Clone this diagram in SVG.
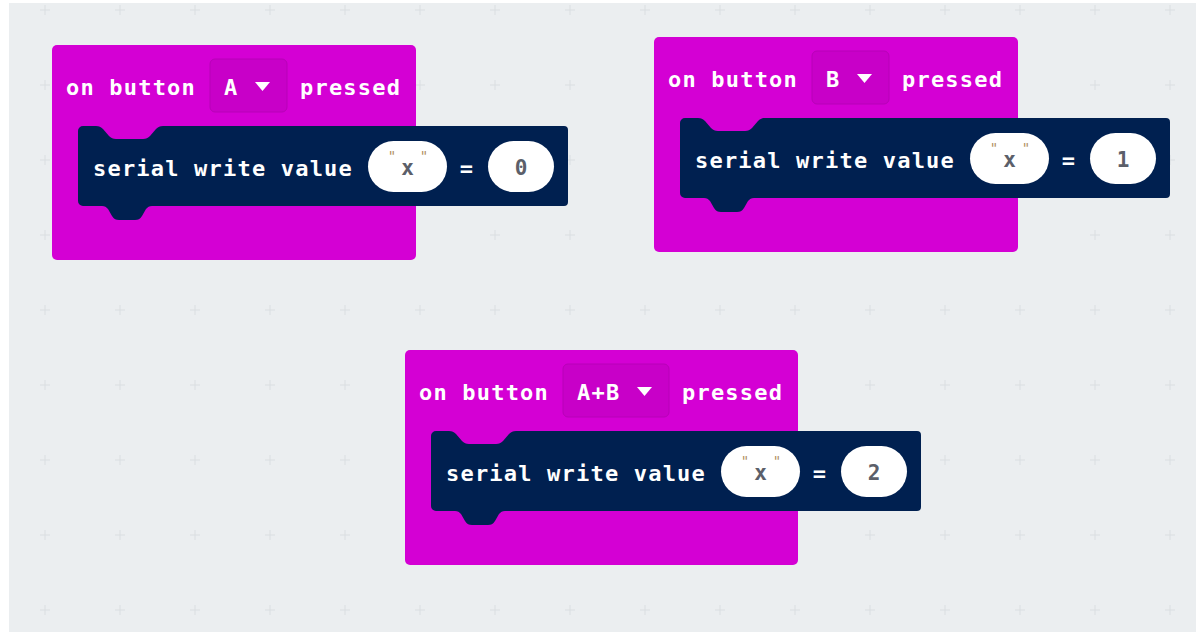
<svg xmlns="http://www.w3.org/2000/svg" width="1196" height="633" viewBox="0 0 1196 633">
<defs>
<style>
.bg{fill:#ebeef0}
.grid{stroke:#dadee1;stroke-width:1}
.evt{fill:#d400d4}
.dd{fill:#c800c8;stroke:#b800b8;stroke-width:1}
.stmt{fill:#002050}
.oval{fill:#ffffff}
.t{font-family:"DejaVu Sans Mono","Liberation Mono",monospace;font-weight:bold;font-size:22px;letter-spacing:1.2px;fill:#ffffff}
.v{font-family:"DejaVu Sans Mono","Liberation Mono",monospace;font-weight:bold;font-size:21px;fill:#5c5f6a;text-anchor:middle}
.q{font-family:"DejaVu Sans","Liberation Sans",sans-serif;font-size:14px;fill:#b09060;text-anchor:middle}
.arrow{fill:#ffffff}
</style>
</defs>
<rect x="0" y="0" width="1196" height="633" fill="#ffffff"/>
<rect class="bg" x="9" y="3" width="1187" height="629"/>
<g id="grid" class="grid" fill="none">
<path d="M40,10h10M45,5v10 M115,10h10M120,5v10 M190,10h10M195,5v10 M265,10h10M270,5v10 M340,10h10M345,5v10 M415,10h10M420,5v10 M490,10h10M495,5v10 M565,10h10M570,5v10 M640,10h10M645,5v10 M715,10h10M720,5v10 M790,10h10M795,5v10 M865,10h10M870,5v10 M940,10h10M945,5v10 M1015,10h10M1020,5v10 M1090,10h10M1095,5v10 M1165,10h10M1170,5v10"/>
<path d="M1090,85h10M1095,80v10 M1165,85h10M1170,80v10 M565,85h10M570,80v10 M40,85h10M45,80v10 M415,85h10M420,80v10 M490,85h10M495,80v10"/>
<path d="M490,160h10M495,155v10 M565,160h10M570,155v10 M1090,160h10M1095,155v10 M1165,160h10M1170,155v10 M40,160h10M45,155v10 M490,235h10M495,230v10 M565,235h10M570,230v10 M1090,235h10M1095,230v10 M1165,235h10M1170,230v10 M40,235h10M45,230v10"/>
<path d="M40,310h10M45,305v10 M115,310h10M120,305v10 M190,310h10M195,305v10 M265,310h10M270,305v10 M340,310h10M345,305v10 M415,310h10M420,305v10 M490,310h10M495,305v10 M565,310h10M570,305v10 M640,310h10M645,305v10 M715,310h10M720,305v10 M790,310h10M795,305v10 M865,310h10M870,305v10 M940,310h10M945,305v10 M1015,310h10M1020,305v10 M1090,310h10M1095,305v10 M1165,310h10M1170,305v10"/>
<path d="M40,385h10M45,380v10 M115,385h10M120,380v10 M190,385h10M195,380v10 M265,385h10M270,380v10 M340,385h10M345,380v10 M865,385h10M870,380v10 M940,385h10M945,380v10 M1015,385h10M1020,380v10 M1090,385h10M1095,380v10 M1165,385h10M1170,380v10"/>
<path d="M40,460h10M45,455v10 M115,460h10M120,455v10 M190,460h10M195,455v10 M265,460h10M270,455v10 M340,460h10M345,455v10 M940,460h10M945,455v10 M1015,460h10M1020,455v10 M1090,460h10M1095,455v10 M1165,460h10M1170,455v10"/>
<path d="M40,535h10M45,530v10 M115,535h10M120,530v10 M190,535h10M195,530v10 M265,535h10M270,530v10 M340,535h10M345,530v10 M865,535h10M870,530v10 M940,535h10M945,530v10 M1015,535h10M1020,530v10 M1090,535h10M1095,530v10 M1165,535h10M1170,530v10"/>
<path d="M40,610h10M45,605v10 M115,610h10M120,605v10 M190,610h10M195,605v10 M265,610h10M270,605v10 M340,610h10M345,605v10 M415,610h10M420,605v10 M490,610h10M495,605v10 M565,610h10M570,605v10 M640,610h10M645,605v10 M715,610h10M720,605v10 M790,610h10M795,605v10 M865,610h10M870,605v10 M940,610h10M945,605v10 M1015,610h10M1020,605v10 M1090,610h10M1095,605v10 M1165,610h10M1170,605v10"/>
</g>
<g id="connectors"></g>

<g id="block-a" transform="translate(52,45)">
<rect class="evt" x="0" y="0" width="364" height="215" rx="5"/>
<rect class="dd" x="158" y="14" width="77" height="53" rx="5"/>
<text class="t" x="14" y="50">on button</text>
<text class="t" x="172" y="50">A</text>
<path class="arrow" d="M203,37h15l-7.5,9z"/>
<text class="t" x="248" y="50">pressed</text>
<path class="stmt" d="M31,81H44c3,0 5,1 7,3l6,7c2,2 4,3 7,3h27c3,0 5,-1 7,-3l6,-7c2,-2 4,-3 7,-3H512a4,4 0 0 1 4,4V157a4,4 0 0 1 -4,4H100c-3,0 -4,1 -6,3l-4,7c-2,3 -4,4 -7,4H67c-3,0 -5,-1 -7,-4l-4,-7c-2,-2 -3,-3 -6,-3H31a5,5 0 0 1 -5,-5V86a5,5 0 0 1 5,-5z"/>
<text class="t" x="41" y="131">serial write value</text>
<rect class="oval" x="316" y="96" width="79" height="51" rx="25.5"/>
<text class="q" x="340" y="116">"</text>
<text class="q" x="372" y="116">"</text>
<text class="v" x="355.5" y="130">x</text>
<text class="t" x="415" y="131" text-anchor="middle">=</text>
<rect class="oval" x="436" y="96" width="66" height="51" rx="25.5"/>
<text class="v" x="469" y="130">0</text>
</g>

<g id="block-b" transform="translate(654,37)">
<rect class="evt" x="0" y="0" width="364" height="215" rx="5"/>
<rect class="dd" x="158" y="14" width="77" height="53" rx="5"/>
<text class="t" x="14" y="50">on button</text>
<text class="t" x="172" y="50">B</text>
<path class="arrow" d="M203,37h15l-7.5,9z"/>
<text class="t" x="248" y="50">pressed</text>
<path class="stmt" d="M31,81H44c3,0 5,1 7,3l6,7c2,2 4,3 7,3h27c3,0 5,-1 7,-3l6,-7c2,-2 4,-3 7,-3H512a4,4 0 0 1 4,4V157a4,4 0 0 1 -4,4H100c-3,0 -4,1 -6,3l-4,7c-2,3 -4,4 -7,4H67c-3,0 -5,-1 -7,-4l-4,-7c-2,-2 -3,-3 -6,-3H31a5,5 0 0 1 -5,-5V86a5,5 0 0 1 5,-5z"/>
<text class="t" x="41" y="131">serial write value</text>
<rect class="oval" x="316" y="96" width="79" height="51" rx="25.5"/>
<text class="q" x="340" y="116">"</text>
<text class="q" x="372" y="116">"</text>
<text class="v" x="355.5" y="130">x</text>
<text class="t" x="415" y="131" text-anchor="middle">=</text>
<rect class="oval" x="436" y="96" width="66" height="51" rx="25.5"/>
<text class="v" x="469" y="130">1</text>
</g>

<g id="block-ab" transform="translate(405,350)">
<rect class="evt" x="0" y="0" width="393" height="215" rx="5"/>
<rect class="dd" x="158" y="14" width="106" height="53" rx="5"/>
<text class="t" x="14" y="50">on button</text>
<text class="t" x="172" y="50">A+B</text>
<path class="arrow" d="M232,37h15l-7.5,9z"/>
<text class="t" x="277" y="50">pressed</text>
<path class="stmt" d="M31,81H44c3,0 5,1 7,3l6,7c2,2 4,3 7,3h27c3,0 5,-1 7,-3l6,-7c2,-2 4,-3 7,-3H512a4,4 0 0 1 4,4V157a4,4 0 0 1 -4,4H100c-3,0 -4,1 -6,3l-4,7c-2,3 -4,4 -7,4H67c-3,0 -5,-1 -7,-4l-4,-7c-2,-2 -3,-3 -6,-3H31a5,5 0 0 1 -5,-5V86a5,5 0 0 1 5,-5z"/>
<text class="t" x="41" y="131">serial write value</text>
<rect class="oval" x="316" y="96" width="79" height="51" rx="25.5"/>
<text class="q" x="340" y="116">"</text>
<text class="q" x="372" y="116">"</text>
<text class="v" x="355.5" y="130">x</text>
<text class="t" x="415" y="131" text-anchor="middle">=</text>
<rect class="oval" x="436" y="96" width="66" height="51" rx="25.5"/>
<text class="v" x="469" y="130">2</text>
</g>
</svg>
